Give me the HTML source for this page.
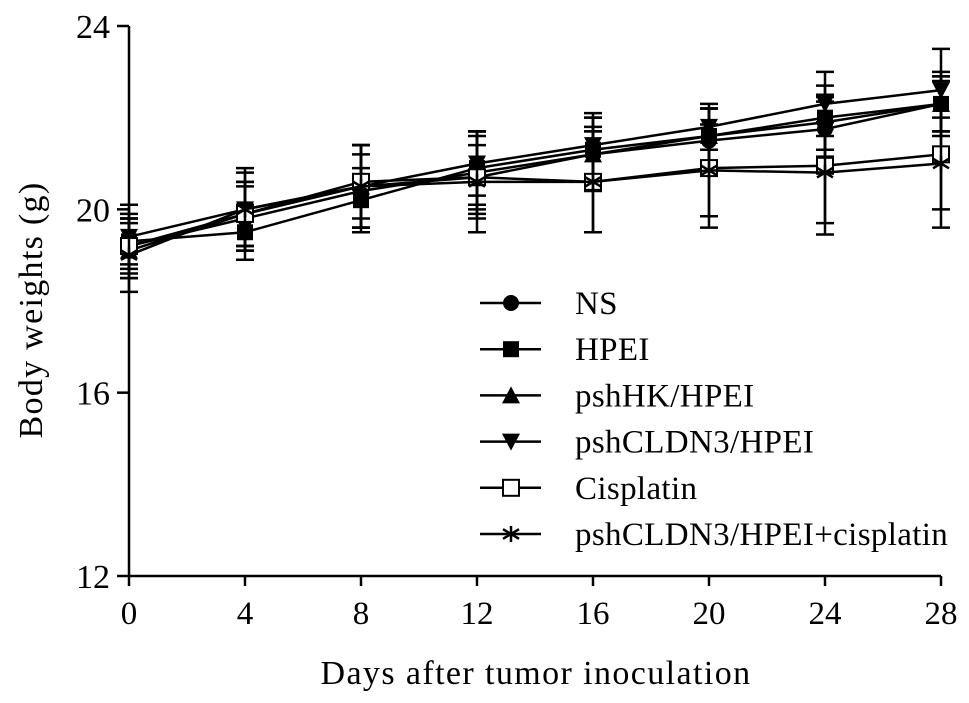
<!DOCTYPE html>
<html><head><meta charset="utf-8"><style>
html,body{margin:0;padding:0;background:#fff;}
svg{display:block;font-family:"Liberation Serif",serif;}
</style></head><body>
<svg id="chart" width="969" height="703" viewBox="0 0 969 703">
<g id="axes"></g>
<g id="plot"></g>
<g id="legend"></g>
<text x="536" y="684" font-size="34" letter-spacing="1.4" text-anchor="middle">Days after tumor inoculation</text>
<text transform="translate(42,310) rotate(-90)" font-size="34" letter-spacing="1.3" text-anchor="middle">Body weights (g)</text>
</svg>
<script>
const days = [0,4,8,12,16,20,24,28];
const seriesNames = ["NS","HPEI","pshHK/HPEI","pshCLDN3/HPEI","Cisplatin","pshCLDN3/HPEI+cisplatin"];
const markers = ["circle","square","triangle","invtriangle","opensquare","star"];
const nsVals = [19.2,19.8,20.4,20.8,21.2,21.5,21.75,22.3];
const hpeiVals = [19.3,19.5,20.2,20.9,21.3,21.6,22.0,22.3];
const hkVals = [19.1,19.9,20.5,20.7,21.2,21.6,21.9,22.3];
const cldnVals = [19.4,20.0,20.5,21.0,21.4,21.8,22.3,22.6];
const cisVals = [19.2,19.9,20.6,20.7,20.6,20.9,20.95,21.2];
const comboVals = [19.0,20.0,20.5,20.6,20.6,20.85,20.8,21.0];
const nsErr = [0.6,0.7,0.8,0.9,0.8,0.7,0.6,0.7];
const hpeiErr = [0.5,0.6,0.7,0.8,0.7,0.6,0.7,0.6];
const hkErr = [0.6,0.7,0.9,0.7,0.6,0.6,0.6,0.6];
const cldnErr = [0.7,0.8,0.9,0.7,0.7,0.5,0.7,0.9];
const cisErr = [0.7,0.7,0.8,0.9,1.1,1.3,1.5,1.6];
const comboErr = [0.8,0.9,0.9,1.1,1.1,1.0,1.1,1.0];
const xTicks = [0,4,8,12,16,20,24,28];
const yTicks = [12,16,20,24];
const allVals = [nsVals,hpeiVals,hkVals,cldnVals,cisVals,comboVals];
const allErr = [nsErr,hpeiErr,hkErr,cldnErr,cisErr,comboErr];

const NS="http://www.w3.org/2000/svg";
const X0=129,X1=941,Y0=576,Y1=26;
function xs(d){return X0+(d-0)/(28-0)*(X1-X0);}
function ys(v){return Y0-(v-12)/(24-12)*(Y0-Y1);}
function mk(tag,attrs,parent){const e=document.createElementNS(NS,tag);for(const k in attrs)e.setAttribute(k,attrs[k]);parent.appendChild(e);return e;}

const axes=document.getElementById('axes');
const xa=mk('line',{x1:X0,y1:Y0,x2:X1,y2:Y0,stroke:'#000','stroke-width':2.5},axes);


const ya=mk('line',{x1:X0,y1:Y0,x2:X0,y2:Y1,stroke:'#000','stroke-width':2.5},axes);


xTicks.forEach(t=>{
  const l=mk('line',{x1:xs(t),y1:Y0,x2:xs(t),y2:Y0+10,stroke:'#000','stroke-width':2.5},axes);
  
  
  const tx=mk('text',{x:xs(t),y:Y0+48,'font-size':33,'text-anchor':'middle'},axes);
  tx.textContent=t;
  
  
});
yTicks.forEach(t=>{
  const l=mk('line',{x1:X0-12,y1:ys(t),x2:X0,y2:ys(t),stroke:'#000','stroke-width':2.5},axes);
  
  
  const tx=mk('text',{x:X0-19,y:ys(t)+12,'font-size':34,'text-anchor':'end'},axes);
  tx.textContent=t;
  
  
});

function drawMarker(type,cx,cy,parent){
  const g=mk('g',{},parent);
  const s=8;
  if(type==='circle')mk('circle',{cx:cx,cy:cy,r:s},g);
  else if(type==='square')mk('rect',{x:cx-s,y:cy-s,width:2*s,height:2*s},g);
  else if(type==='triangle')mk('polygon',{points:`${cx},${cy-s-1} ${cx-s-1},${cy+s} ${cx+s+1},${cy+s}`},g);
  else if(type==='invtriangle')mk('polygon',{points:`${cx},${cy+s+1} ${cx-s-1},${cy-s} ${cx+s+1},${cy-s}`},g);
  else if(type==='opensquare')mk('rect',{x:cx-s,y:cy-s,width:2*s,height:2*s,fill:'#fff',stroke:'#000','stroke-width':2},g);
  else if(type==='star'){
    mk('path',{d:`M${cx},${cy-s}V${cy+s}M${cx-s},${cy-s*0.6}L${cx+s},${cy+s*0.6}M${cx-s},${cy+s*0.6}L${cx+s},${cy-s*0.6}`,stroke:'#000','stroke-width':2.5,fill:'none'},g);
  }
  return g;
}

const plot=document.getElementById('plot');
allVals.forEach((vals,si)=>{
  const g=mk('g',{},plot);
  
  
  const errs=allErr[si];
  days.forEach((d,i)=>{
    const x=xs(d),yt=ys(vals[i]+errs[i]),yb=ys(vals[i]-errs[i]);
    const e=mk('path',{d:`M${x},${yt}V${yb}M${x-9},${yt}H${x+9}M${x-9},${yb}H${x+9}`,stroke:'#000','stroke-width':2.5,fill:'none'},g);
    
    
  });
  const pts=days.map((d,i)=>xs(d)+','+ys(vals[i])).join(' ');
  const pl=mk('polyline',{points:pts,fill:'none',stroke:'#000','stroke-width':2.5},g);
  
  
  days.forEach((d,i)=>{
    const m=drawMarker(markers[si],xs(d),ys(vals[i]),g);
    
    
  });
});

const legend=document.getElementById('legend');
seriesNames.forEach((n,i)=>{
  const y=303+i*46.2;
  const g=mk('g',{},legend);
  
  
  mk('line',{x1:480,y1:y,x2:541,y2:y,stroke:'#000','stroke-width':2.5},g);
  drawMarker(markers[i],511,y,g);
  const t=mk('text',{x:575,y:y+11,'font-size':33,'letter-spacing':0.35},g);
  t.textContent=n;
});
</script>
</body></html>
